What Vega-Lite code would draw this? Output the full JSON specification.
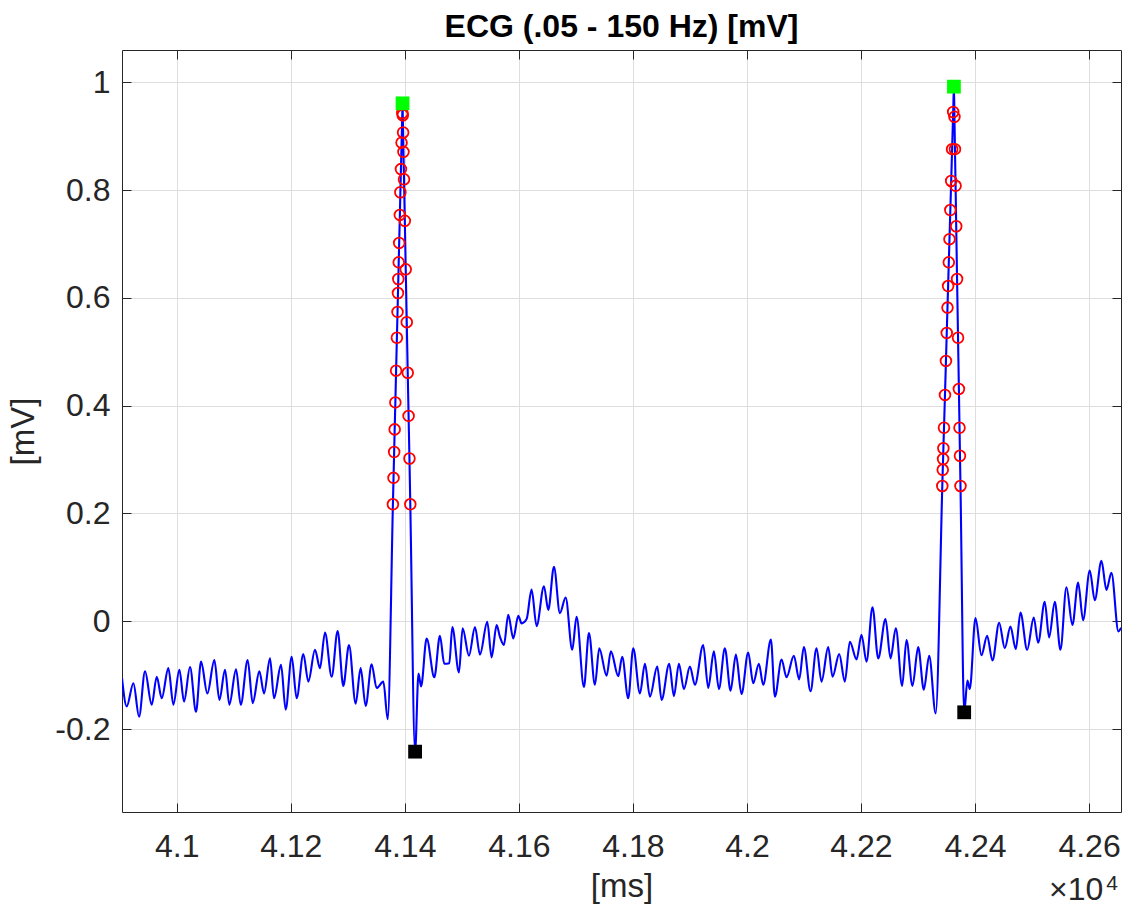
{
  "$schema": "https://vega.github.io/schema/vega-lite/v6.json",
  "width": 999,
  "height": 762,
  "autosize": {"type": "none"},
  "padding": {"left": 122, "top": 50, "right": 12, "bottom": 94},
  "background": "white",
  "config": {
    "view": {"stroke": null},
    "axis": {
      "labelFont": "Liberation Sans",
      "titleFont": "Liberation Sans",
      "labelColor": "#262626",
      "titleColor": "#262626",
      "domainColor": "#262626",
      "domainWidth": 1,
      "tickColor": "#262626",
      "tickWidth": 1,
      "gridColor": "#dedede",
      "gridWidth": 1,
      "labelFontSize": 32,
      "titleFontSize": 33,
      "titleFontWeight": "normal"
    }
  },
  "title": {
    "text": "ECG (.05 - 150 Hz) [mV]",
    "font": "Liberation Sans",
    "fontSize": 32,
    "fontWeight": "bold",
    "color": "#000000",
    "anchor": "middle",
    "frame": "group",
    "baseline": "alphabetic",
    "offset": 10,
    "dy": 29.5
  },
  "datasets": {
    "ecg": [
      {"t": 40904, "v": -0.106, "kind": "sample"},
      {"t": 40912.3, "v": -0.158, "kind": "sample"},
      {"t": 40924.0, "v": -0.115, "kind": "sample"},
      {"t": 40933.9, "v": -0.177, "kind": "sample"},
      {"t": 40944.4, "v": -0.093, "kind": "sample"},
      {"t": 40956.1, "v": -0.155, "kind": "sample"},
      {"t": 40964.9, "v": -0.103, "kind": "sample"},
      {"t": 40973.7, "v": -0.143, "kind": "sample"},
      {"t": 40985.3, "v": -0.087, "kind": "sample"},
      {"t": 40994.1, "v": -0.155, "kind": "sample"},
      {"t": 41004.6, "v": -0.090, "kind": "sample"},
      {"t": 41012.8, "v": -0.149, "kind": "sample"},
      {"t": 41023.3, "v": -0.085, "kind": "sample"},
      {"t": 41033.8, "v": -0.168, "kind": "sample"},
      {"t": 41042.6, "v": -0.075, "kind": "sample"},
      {"t": 41053.7, "v": -0.134, "kind": "sample"},
      {"t": 41066.0, "v": -0.072, "kind": "sample"},
      {"t": 41074.8, "v": -0.146, "kind": "sample"},
      {"t": 41084.7, "v": -0.090, "kind": "sample"},
      {"t": 41092.3, "v": -0.155, "kind": "sample"},
      {"t": 41104.0, "v": -0.089, "kind": "sample"},
      {"t": 41112.2, "v": -0.155, "kind": "sample"},
      {"t": 41124.4, "v": -0.072, "kind": "sample"},
      {"t": 41133.2, "v": -0.152, "kind": "sample"},
      {"t": 41144.9, "v": -0.093, "kind": "sample"},
      {"t": 41153.1, "v": -0.134, "kind": "sample"},
      {"t": 41163.6, "v": -0.069, "kind": "sample"},
      {"t": 41170.6, "v": -0.143, "kind": "sample"},
      {"t": 41182.9, "v": -0.081, "kind": "sample"},
      {"t": 41191.0, "v": -0.164, "kind": "sample"},
      {"t": 41201.6, "v": -0.066, "kind": "sample"},
      {"t": 41210.3, "v": -0.143, "kind": "sample"},
      {"t": 41222.0, "v": -0.061, "kind": "sample"},
      {"t": 41230.8, "v": -0.112, "kind": "sample"},
      {"t": 41242.5, "v": -0.053, "kind": "sample"},
      {"t": 41251.2, "v": -0.087, "kind": "sample"},
      {"t": 41260.0, "v": -0.021, "kind": "sample"},
      {"t": 41271.7, "v": -0.103, "kind": "sample"},
      {"t": 41282.2, "v": -0.018, "kind": "sample"},
      {"t": 41292.1, "v": -0.120, "kind": "sample"},
      {"t": 41302.1, "v": -0.044, "kind": "sample"},
      {"t": 41313.8, "v": -0.153, "kind": "sample"},
      {"t": 41322.5, "v": -0.087, "kind": "sample"},
      {"t": 41331.3, "v": -0.157, "kind": "sample"},
      {"t": 41341.8, "v": -0.080, "kind": "sample"},
      {"t": 41350.6, "v": -0.124, "kind": "sample"},
      {"t": 41362.3, "v": -0.112, "kind": "sample"},
      {"t": 41370.0, "v": -0.182, "kind": "sample"},
      {"t": 41379.1, "v": 0.217, "kind": "qrs"},
      {"t": 41380.2, "v": 0.266, "kind": "qrs"},
      {"t": 41381.3, "v": 0.314, "kind": "qrs"},
      {"t": 41382.2, "v": 0.356, "kind": "qrs"},
      {"t": 41383.4, "v": 0.406, "kind": "qrs"},
      {"t": 41384.7, "v": 0.465, "kind": "qrs"},
      {"t": 41386.1, "v": 0.526, "kind": "qrs"},
      {"t": 41387.2, "v": 0.574, "kind": "qrs"},
      {"t": 41388.0, "v": 0.609, "kind": "qrs"},
      {"t": 41388.6, "v": 0.635, "kind": "qrs"},
      {"t": 41389.3, "v": 0.666, "kind": "qrs"},
      {"t": 41390.1, "v": 0.702, "kind": "qrs"},
      {"t": 41391.3, "v": 0.754, "kind": "qrs"},
      {"t": 41392.2, "v": 0.796, "kind": "qrs"},
      {"t": 41393.2, "v": 0.839, "kind": "qrs"},
      {"t": 41394.3, "v": 0.888, "kind": "qrs"},
      {"t": 41395.6, "v": 0.943, "kind": "qrs"},
      {"t": 41396.0, "v": 0.961, "kind": "R"},
      {"t": 41396.4, "v": 0.939, "kind": "qrs"},
      {"t": 41397.0, "v": 0.907, "kind": "qrs"},
      {"t": 41397.6, "v": 0.871, "kind": "qrs"},
      {"t": 41398.6, "v": 0.820, "kind": "qrs"},
      {"t": 41400.0, "v": 0.743, "kind": "qrs"},
      {"t": 41401.6, "v": 0.653, "kind": "qrs"},
      {"t": 41403.4, "v": 0.555, "kind": "qrs"},
      {"t": 41405.1, "v": 0.461, "kind": "qrs"},
      {"t": 41406.6, "v": 0.381, "kind": "qrs"},
      {"t": 41408.1, "v": 0.302, "kind": "qrs"},
      {"t": 41409.6, "v": 0.217, "kind": "qrs"},
      {"t": 41418.0, "v": -0.242, "kind": "S"},
      {"t": 41424.0, "v": -0.097, "kind": "sample"},
      {"t": 41428.5, "v": -0.121, "kind": "sample"},
      {"t": 41438.3, "v": -0.032, "kind": "sample"},
      {"t": 41451.7, "v": -0.104, "kind": "sample"},
      {"t": 41461.6, "v": -0.027, "kind": "sample"},
      {"t": 41469.2, "v": -0.079, "kind": "sample"},
      {"t": 41478.0, "v": -0.078, "kind": "sample"},
      {"t": 41483.3, "v": -0.011, "kind": "sample"},
      {"t": 41494.9, "v": -0.095, "kind": "sample"},
      {"t": 41501.4, "v": -0.013, "kind": "sample"},
      {"t": 41512.5, "v": -0.064, "kind": "sample"},
      {"t": 41523.0, "v": -0.011, "kind": "sample"},
      {"t": 41531.8, "v": -0.062, "kind": "sample"},
      {"t": 41544.6, "v": -0.001, "kind": "sample"},
      {"t": 41552.2, "v": -0.067, "kind": "sample"},
      {"t": 41561.0, "v": -0.007, "kind": "sample"},
      {"t": 41566.8, "v": -0.029, "kind": "sample"},
      {"t": 41573.8, "v": -0.044, "kind": "sample"},
      {"t": 41581.4, "v": 0.012, "kind": "sample"},
      {"t": 41590.2, "v": -0.032, "kind": "sample"},
      {"t": 41599.0, "v": 0.010, "kind": "sample"},
      {"t": 41604.8, "v": -0.004, "kind": "sample"},
      {"t": 41613.6, "v": 0.004, "kind": "sample"},
      {"t": 41622.3, "v": 0.059, "kind": "sample"},
      {"t": 41631.1, "v": -0.009, "kind": "sample"},
      {"t": 41644.0, "v": 0.065, "kind": "sample"},
      {"t": 41651.6, "v": 0.021, "kind": "sample"},
      {"t": 41661.5, "v": 0.101, "kind": "sample"},
      {"t": 41672.0, "v": 0.015, "kind": "sample"},
      {"t": 41682.0, "v": 0.044, "kind": "sample"},
      {"t": 41693.6, "v": -0.053, "kind": "sample"},
      {"t": 41701.2, "v": 0.008, "kind": "sample"},
      {"t": 41714.1, "v": -0.122, "kind": "sample"},
      {"t": 41722.9, "v": -0.022, "kind": "sample"},
      {"t": 41733.4, "v": -0.118, "kind": "sample"},
      {"t": 41741.0, "v": -0.050, "kind": "sample"},
      {"t": 41753.8, "v": -0.101, "kind": "sample"},
      {"t": 41761.4, "v": -0.056, "kind": "sample"},
      {"t": 41774.3, "v": -0.102, "kind": "sample"},
      {"t": 41781.2, "v": -0.066, "kind": "sample"},
      {"t": 41791.8, "v": -0.143, "kind": "sample"},
      {"t": 41800.6, "v": -0.050, "kind": "sample"},
      {"t": 41812.3, "v": -0.134, "kind": "sample"},
      {"t": 41821.1, "v": -0.079, "kind": "sample"},
      {"t": 41829.8, "v": -0.140, "kind": "sample"},
      {"t": 41842.7, "v": -0.084, "kind": "sample"},
      {"t": 41850.3, "v": -0.146, "kind": "sample"},
      {"t": 41863.7, "v": -0.079, "kind": "sample"},
      {"t": 41871.9, "v": -0.139, "kind": "sample"},
      {"t": 41880.7, "v": -0.079, "kind": "sample"},
      {"t": 41889.4, "v": -0.126, "kind": "sample"},
      {"t": 41900.0, "v": -0.084, "kind": "sample"},
      {"t": 41908.7, "v": -0.118, "kind": "sample"},
      {"t": 41923.3, "v": -0.044, "kind": "sample"},
      {"t": 41932.1, "v": -0.124, "kind": "sample"},
      {"t": 41942.0, "v": -0.056, "kind": "sample"},
      {"t": 41950.8, "v": -0.126, "kind": "sample"},
      {"t": 41961.3, "v": -0.050, "kind": "sample"},
      {"t": 41971.3, "v": -0.129, "kind": "sample"},
      {"t": 41980.6, "v": -0.062, "kind": "sample"},
      {"t": 41990.5, "v": -0.135, "kind": "sample"},
      {"t": 42002.2, "v": -0.058, "kind": "sample"},
      {"t": 42011.0, "v": -0.115, "kind": "sample"},
      {"t": 42020.9, "v": -0.079, "kind": "sample"},
      {"t": 42028.5, "v": -0.118, "kind": "sample"},
      {"t": 42042.0, "v": -0.034, "kind": "sample"},
      {"t": 42049.0, "v": -0.140, "kind": "sample"},
      {"t": 42060.7, "v": -0.071, "kind": "sample"},
      {"t": 42069.4, "v": -0.104, "kind": "sample"},
      {"t": 42082.3, "v": -0.064, "kind": "sample"},
      {"t": 42091.6, "v": -0.108, "kind": "sample"},
      {"t": 42099.8, "v": -0.048, "kind": "sample"},
      {"t": 42111.5, "v": -0.130, "kind": "sample"},
      {"t": 42122.0, "v": -0.050, "kind": "sample"},
      {"t": 42130.8, "v": -0.112, "kind": "sample"},
      {"t": 42142.5, "v": -0.048, "kind": "sample"},
      {"t": 42150.1, "v": -0.103, "kind": "sample"},
      {"t": 42161.8, "v": -0.061, "kind": "sample"},
      {"t": 42171.7, "v": -0.112, "kind": "sample"},
      {"t": 42180.5, "v": -0.038, "kind": "sample"},
      {"t": 42192.2, "v": -0.071, "kind": "sample"},
      {"t": 42200.9, "v": -0.025, "kind": "sample"},
      {"t": 42209.7, "v": -0.075, "kind": "sample"},
      {"t": 42220.2, "v": 0.026, "kind": "sample"},
      {"t": 42230.2, "v": -0.069, "kind": "sample"},
      {"t": 42243.0, "v": 0.004, "kind": "sample"},
      {"t": 42251.8, "v": -0.069, "kind": "sample"},
      {"t": 42261.1, "v": -0.013, "kind": "sample"},
      {"t": 42272.2, "v": -0.120, "kind": "sample"},
      {"t": 42279.8, "v": -0.035, "kind": "sample"},
      {"t": 42290.3, "v": -0.120, "kind": "sample"},
      {"t": 42300.3, "v": -0.048, "kind": "sample"},
      {"t": 42310.2, "v": -0.127, "kind": "sample"},
      {"t": 42319.6, "v": -0.064, "kind": "sample"},
      {"t": 42331.0, "v": -0.171, "kind": "sample"},
      {"t": 42342.6, "v": 0.251, "kind": "qrs"},
      {"t": 42343.4, "v": 0.281, "kind": "qrs"},
      {"t": 42344.0, "v": 0.301, "kind": "qrs"},
      {"t": 42344.5, "v": 0.321, "kind": "qrs"},
      {"t": 42345.6, "v": 0.359, "kind": "qrs"},
      {"t": 42347.3, "v": 0.420, "kind": "qrs"},
      {"t": 42349.0, "v": 0.483, "kind": "qrs"},
      {"t": 42350.4, "v": 0.535, "kind": "qrs"},
      {"t": 42351.7, "v": 0.582, "kind": "qrs"},
      {"t": 42352.8, "v": 0.622, "kind": "qrs"},
      {"t": 42354.0, "v": 0.666, "kind": "qrs"},
      {"t": 42355.2, "v": 0.709, "kind": "qrs"},
      {"t": 42356.7, "v": 0.763, "kind": "qrs"},
      {"t": 42358.2, "v": 0.817, "kind": "qrs"},
      {"t": 42359.8, "v": 0.876, "kind": "qrs"},
      {"t": 42361.7, "v": 0.945, "kind": "qrs"},
      {"t": 42363.0, "v": 0.992, "kind": "R"},
      {"t": 42363.9, "v": 0.936, "kind": "qrs"},
      {"t": 42364.8, "v": 0.876, "kind": "qrs"},
      {"t": 42365.9, "v": 0.808, "kind": "qrs"},
      {"t": 42367.0, "v": 0.733, "kind": "qrs"},
      {"t": 42368.5, "v": 0.635, "kind": "qrs"},
      {"t": 42370.2, "v": 0.526, "kind": "qrs"},
      {"t": 42371.7, "v": 0.431, "kind": "qrs"},
      {"t": 42372.8, "v": 0.359, "kind": "qrs"},
      {"t": 42373.6, "v": 0.307, "kind": "qrs"},
      {"t": 42374.5, "v": 0.251, "kind": "qrs"},
      {"t": 42381.0, "v": -0.169, "kind": "S"},
      {"t": 42386.7, "v": -0.110, "kind": "sample"},
      {"t": 42390.8, "v": -0.126, "kind": "sample"},
      {"t": 42400.8, "v": 0.006, "kind": "sample"},
      {"t": 42411.3, "v": -0.063, "kind": "sample"},
      {"t": 42421.2, "v": -0.027, "kind": "sample"},
      {"t": 42430.6, "v": -0.073, "kind": "sample"},
      {"t": 42442.3, "v": -0.003, "kind": "sample"},
      {"t": 42452.2, "v": -0.050, "kind": "sample"},
      {"t": 42462.1, "v": -0.010, "kind": "sample"},
      {"t": 42471.5, "v": -0.052, "kind": "sample"},
      {"t": 42479.7, "v": 0.016, "kind": "sample"},
      {"t": 42491.4, "v": -0.053, "kind": "sample"},
      {"t": 42503.0, "v": 0.007, "kind": "sample"},
      {"t": 42510.6, "v": -0.040, "kind": "sample"},
      {"t": 42522.3, "v": 0.036, "kind": "sample"},
      {"t": 42529.9, "v": -0.030, "kind": "sample"},
      {"t": 42539.9, "v": 0.036, "kind": "sample"},
      {"t": 42549.8, "v": -0.053, "kind": "sample"},
      {"t": 42560.3, "v": 0.063, "kind": "sample"},
      {"t": 42570.8, "v": -0.007, "kind": "sample"},
      {"t": 42580.8, "v": 0.072, "kind": "sample"},
      {"t": 42589.5, "v": 0.002, "kind": "sample"},
      {"t": 42601.2, "v": 0.094, "kind": "sample"},
      {"t": 42610.0, "v": 0.039, "kind": "sample"},
      {"t": 42621.7, "v": 0.112, "kind": "sample"},
      {"t": 42630.4, "v": 0.058, "kind": "sample"},
      {"t": 42639.2, "v": 0.090, "kind": "sample"},
      {"t": 42651.5, "v": -0.019, "kind": "sample"},
      {"t": 42656.0, "v": -0.012, "kind": "sample"}
    ],
    "exponent": [
      {"part": "base", "label": "×10"},
      {"part": "power", "label": "4"}
    ]
  },
  "data": {"name": "ecg"},
  "layer": [
    {
      "mark": {"type": "line", "color": "#0000ff", "strokeWidth": 2.1, "interpolate": "monotone", "clip": true},
      "encoding": {
        "x": {
          "field": "t", "type": "quantitative",
          "scale": {"domain": [40904, 42656], "nice": false, "zero": false},
          "axis": {
            "orient": "bottom", "title": "[ms]",
            "values": [41000, 41200, 41400, 41600, 41800, 42000, 42200, 42400, 42600],
            "labelExpr": "'' + datum.value / 10000",
            "grid": true, "domain": true, "tickSize": -9,
            "labelPadding": 28, "titlePadding": 8
          }
        },
        "y": {
          "field": "v", "type": "quantitative",
          "scale": {"domain": [-0.354, 1.06], "nice": false, "zero": false},
          "axis": {
            "orient": "left", "title": "[mV]",
            "values": [-0.2, 0, 0.2, 0.4, 0.6, 0.8, 1],
            "labelExpr": "'' + datum.value",
            "grid": true, "domain": true, "tickSize": -9,
            "labelPadding": 21, "titlePadding": 14
          }
        }
      }
    },
    {
      "transform": [{"filter": "datum.kind == 'qrs'"}],
      "mark": {"type": "point", "shape": "circle", "filled": false, "color": "#ff0000", "size": 115, "strokeWidth": 1.8, "opacity": 1},
      "encoding": {
        "x": {
          "field": "t", "type": "quantitative",
          "axis": {
            "orient": "top", "title": null, "labels": false, "grid": false, "domain": true, "tickSize": -9,
            "values": [41000, 41200, 41400, 41600, 41800, 42000, 42200, 42400, 42600]
          }
        },
        "y": {
          "field": "v", "type": "quantitative",
          "axis": {
            "orient": "right", "title": null, "labels": false, "grid": false, "domain": true, "tickSize": -9,
            "values": [-0.2, 0, 0.2, 0.4, 0.6, 0.8, 1]
          }
        }
      }
    },
    {
      "transform": [{"filter": "datum.kind == 'R'"}],
      "mark": {"type": "point", "shape": "square", "filled": true, "color": "#00ff00", "size": 190, "opacity": 1},
      "encoding": {
        "x": {"field": "t", "type": "quantitative", "axis": null},
        "y": {"field": "v", "type": "quantitative", "axis": null}
      }
    },
    {
      "transform": [{"filter": "datum.kind == 'S'"}],
      "mark": {"type": "point", "shape": "square", "filled": true, "color": "#000000", "size": 190, "opacity": 1},
      "encoding": {
        "x": {"field": "t", "type": "quantitative", "axis": null},
        "y": {"field": "v", "type": "quantitative", "axis": null}
      }
    },
    {
      "data": {"name": "exponent"},
      "transform": [{"filter": "datum.part == 'base'"}],
      "mark": {"type": "text", "align": "right", "baseline": "alphabetic", "font": "Liberation Sans", "fontSize": 32, "color": "#262626"},
      "encoding": {
        "x": {"datum": 42625, "type": "quantitative", "axis": null},
        "y": {"datum": -0.517, "type": "quantitative", "axis": null},
        "text": {"field": "label", "type": "nominal"}
      }
    },
    {
      "data": {"name": "exponent"},
      "transform": [{"filter": "datum.part == 'power'"}],
      "mark": {"type": "text", "align": "left", "baseline": "alphabetic", "font": "Liberation Sans", "fontSize": 21, "color": "#262626"},
      "encoding": {
        "x": {"datum": 42630, "type": "quantitative", "axis": null},
        "y": {"datum": -0.4985, "type": "quantitative", "axis": null},
        "text": {"field": "label", "type": "nominal"}
      }
    }
  ],
  "resolve": {"axis": {"x": "independent", "y": "independent"}}
}
